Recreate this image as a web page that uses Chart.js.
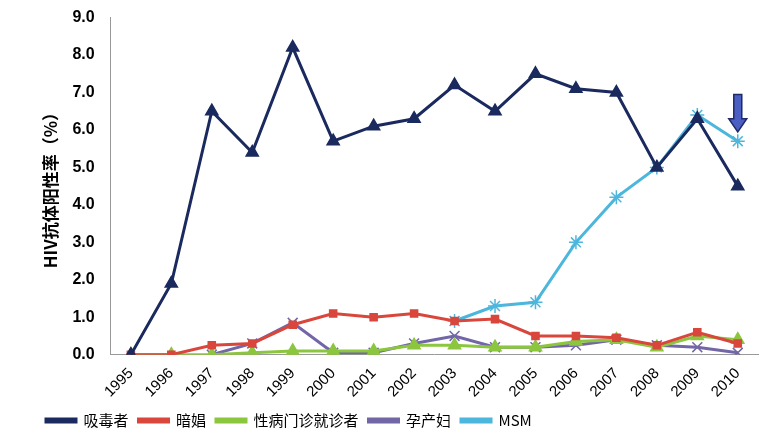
<!DOCTYPE html>
<html>
<head>
<meta charset="utf-8">
<script src="https://cdn.jsdelivr.net/npm/chart.js@4"></script>
<style>
  body { margin: 0; background: #fff; }
  #wrap { width: 780px; height: 440px; }
</style>
</head>
<body>
<div id="wrap"><canvas id="c"></canvas></div>
<script>
const years = ["1995","1996","1997","1998","1999","2000","2001","2002","2003","2004","2005","2006","2007","2008","2009","2010"];
const drugUsers = [0, 1.9, 6.5, 5.4, 8.2, 5.7, 6.1, 6.3, 7.2, 6.5, 7.5, 7.1, 7.0, 5.0, 6.3, 4.5];
const sexWorkers = [0, 0, 0.25, 0.3, 0.8, 1.1, 1.0, 1.1, 0.9, 0.95, 0.5, 0.5, 0.45, 0.25, 0.6, 0.3];
const stdClinic = [0, 0, 0, 0.05, 0.1, 0.1, 0.1, 0.25, 0.25, 0.2, 0.2, 0.35, 0.4, 0.2, 0.5, 0.4];
const pregnant = [null, null, 0, 0.3, 0.85, 0.05, 0.05, 0.3, 0.5, 0.2, 0.2, 0.25, 0.4, 0.25, 0.2, 0.05];
const msm = [null, null, null, null, null, null, null, null, 0.9, 1.3, 1.4, 3.0, 4.2, 5.0, 6.4, 5.7];
const yTicks = [0, 1, 2, 3, 4, 5, 6, 7, 8, 9];

// down arrow above the 2010 MSM point
const arrowPlugin = {
  id: "arrow",
  afterDatasetsDraw(chart) {
    const { ctx, scales: { x, y } } = chart;
    const cx = x.getPixelForValue(years.length - 1);
    const top = y.getPixelForValue(6.95), mid = y.getPixelForValue(6.3), tip = y.getPixelForValue(5.95);
    ctx.save();
    ctx.fillStyle = "#4a5fc1";
    ctx.strokeStyle = "#1f2a6b";
    ctx.lineWidth = 1.5;
    ctx.beginPath();
    ctx.moveTo(cx - 4, top); ctx.lineTo(cx + 4, top); ctx.lineTo(cx + 4, mid);
    ctx.lineTo(cx + 9, mid); ctx.lineTo(cx, tip); ctx.lineTo(cx - 9, mid);
    ctx.lineTo(cx - 4, mid); ctx.closePath();
    ctx.fill(); ctx.stroke();
    ctx.restore();
  }
};

function ds(label, data, color, style, radius) {
  return {
    label, data, borderColor: color, backgroundColor: color,
    pointStyle: style, pointRadius: radius, pointBorderWidth: 1.5,
    borderWidth: 3, tension: 0, spanGaps: false
  };
}

new Chart(document.getElementById("c"), {
  type: "line",
  data: {
    labels: years,
    datasets: [
      ds("吸毒者", drugUsers, "#1a2a5e", "triangle", 7),
      ds("暗娼", sexWorkers, "#d9463c", "rect", 5),
      ds("性病门诊就诊者", stdClinic, "#8cc63f", "triangle", 7),
      ds("孕产妇", pregnant, "#7266a6", "crossRot", 7),
      ds("MSM", msm, "#4cb6dc", "star", 7)
    ]
  },
  plugins: [arrowPlugin],
  options: {
    responsive: true,
    maintainAspectRatio: false,
    animation: false,
    layout: { padding: { top: 10, right: 22, left: 36, bottom: 2 } },
    scales: {
      x: {
        offset: true,
        grid: { display: false },
        border: { color: "#999" },
        ticks: { color: "#000", maxRotation: 45, minRotation: 45, padding: 2, font: { size: 15, family: "Liberation Sans" } }
      },
      y: {
        min: 0, max: 9,
        afterBuildTicks: axis => { axis.ticks = yTicks.map(v => ({ value: v })); },
        grid: { display: false },
        border: { color: "#999" },
        ticks: { color: "#000", padding: 8, callback: v => v.toFixed(1), font: { size: 16, weight: "bold", family: "Liberation Sans" } },
        title: { display: true, text: "HIV抗体阳性率（%）", color: "#000", font: { size: 17, weight: "bold", family: "Noto Sans CJK SC" } }
      }
    },
    plugins: {
      legend: {
        position: "bottom",
        align: "start",
        labels: { boxWidth: 30, boxHeight: 3, color: "#000", padding: 10, font: { size: 15, family: "Noto Sans CJK SC" } }
      },
      tooltip: { enabled: false }
    }
  }
});
</script>
</body>
</html>
